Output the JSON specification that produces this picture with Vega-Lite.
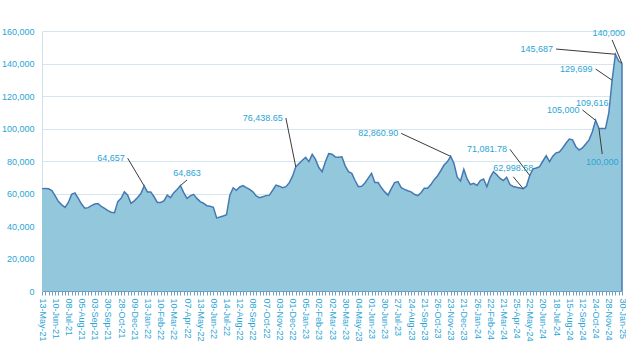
{
  "$schema": "https://vega.github.io/schema/vega-lite/v6.json",
  "width": 580,
  "height": 260,
  "autosize": {"type": "none"},
  "padding": {"left": 42, "top": 31, "right": 4, "bottom": 60},
  "background": "white",
  "config": {"view": {"stroke": null}, "font": "Liberation Sans"},
  "resolve": {"axis": {"x": "independent", "y": "independent"}, "scale": {"x": "shared", "y": "shared"}},
  "datasets": {
    "series": [
      {"d":"13-May-21","v":63000},{"d":"20-May-21","v":63100},{"d":"27-May-21","v":62900},{"d":"03-Jun-21","v":61800},
      {"d":"10-Jun-21","v":58500},{"d":"17-Jun-21","v":55000},{"d":"24-Jun-21","v":53000},{"d":"01-Jul-21","v":51500},
      {"d":"08-Jul-21","v":54500},{"d":"15-Jul-21","v":59500},{"d":"22-Jul-21","v":60300},{"d":"29-Jul-21","v":57000},
      {"d":"05-Aug-21","v":53500},{"d":"12-Aug-21","v":51000},{"d":"19-Aug-21","v":51300},{"d":"26-Aug-21","v":52500},
      {"d":"03-Sep-21","v":53500},{"d":"09-Sep-21","v":53800},{"d":"16-Sep-21","v":52000},{"d":"23-Sep-21","v":50900},
      {"d":"30-Sep-21","v":49500},{"d":"07-Oct-21","v":48500},{"d":"14-Oct-21","v":48200},{"d":"21-Oct-21","v":55000},
      {"d":"28-Oct-21","v":57000},{"d":"11-Nov-21","v":61000},{"d":"25-Nov-21","v":59000},{"d":"02-Dec-21","v":54000},
      {"d":"09-Dec-21","v":55500},{"d":"16-Dec-21","v":57500},{"d":"23-Dec-21","v":60000},{"d":"06-Jan-22","v":64657},
      {"d":"13-Jan-22","v":61000},{"d":"20-Jan-22","v":61000},{"d":"27-Jan-22","v":58000},{"d":"03-Feb-22","v":54500},
      {"d":"10-Feb-22","v":54500},{"d":"17-Feb-22","v":55500},{"d":"24-Feb-22","v":59000},{"d":"03-Mar-22","v":57500},
      {"d":"10-Mar-22","v":60500},{"d":"17-Mar-22","v":62500},{"d":"24-Mar-22","v":64863},{"d":"31-Mar-22","v":60500},
      {"d":"07-Apr-22","v":57000},{"d":"21-Apr-22","v":58500},{"d":"28-Apr-22","v":59500},{"d":"05-May-22","v":57000},
      {"d":"13-May-22","v":55000},{"d":"19-May-22","v":54000},{"d":"26-May-22","v":52500},{"d":"02-Jun-22","v":52200},
      {"d":"09-Jun-22","v":51500},{"d":"16-Jun-22","v":45000},{"d":"23-Jun-22","v":45500},{"d":"30-Jun-22","v":46200},
      {"d":"14-Jul-22","v":47000},{"d":"21-Jul-22","v":59000},{"d":"28-Jul-22","v":63500},{"d":"04-Aug-22","v":62000},
      {"d":"12-Aug-22","v":64000},{"d":"18-Aug-22","v":64800},{"d":"25-Aug-22","v":63600},{"d":"01-Sep-22","v":62500},
      {"d":"08-Sep-22","v":61000},{"d":"15-Sep-22","v":58500},{"d":"22-Sep-22","v":57400},{"d":"29-Sep-22","v":58000},
      {"d":"07-Oct-22","v":58700},{"d":"13-Oct-22","v":59000},{"d":"20-Oct-22","v":62000},{"d":"27-Oct-22","v":65200},
      {"d":"03-Nov-22","v":64500},{"d":"10-Nov-22","v":63600},{"d":"17-Nov-22","v":64200},{"d":"24-Nov-22","v":66500},
      {"d":"01-Dec-22","v":70500},{"d":"08-Dec-22","v":76438.65},{"d":"15-Dec-22","v":78500},{"d":"22-Dec-22","v":80500},
      {"d":"05-Jan-23","v":82200},{"d":"12-Jan-23","v":79600},{"d":"19-Jan-23","v":84100},{"d":"26-Jan-23","v":81000},
      {"d":"02-Feb-23","v":76000},{"d":"09-Feb-23","v":73400},{"d":"16-Feb-23","v":79500},{"d":"23-Feb-23","v":84500},
      {"d":"02-Mar-23","v":84200},{"d":"09-Mar-23","v":82500},{"d":"16-Mar-23","v":82300},{"d":"23-Mar-23","v":82600},
      {"d":"30-Mar-23","v":77000},{"d":"06-Apr-23","v":73400},{"d":"20-Apr-23","v":72400},{"d":"27-Apr-23","v":68000},
      {"d":"04-May-23","v":64200},{"d":"11-May-23","v":64400},{"d":"18-May-23","v":66500},{"d":"25-May-23","v":69500},
      {"d":"01-Jun-23","v":72400},{"d":"08-Jun-23","v":66700},{"d":"15-Jun-23","v":66700},{"d":"22-Jun-23","v":63500},
      {"d":"30-Jun-23","v":61000},{"d":"06-Jul-23","v":59000},{"d":"13-Jul-23","v":63000},{"d":"20-Jul-23","v":66700},
      {"d":"27-Jul-23","v":67300},{"d":"03-Aug-23","v":63600},{"d":"10-Aug-23","v":62500},{"d":"17-Aug-23","v":61700},
      {"d":"24-Aug-23","v":61000},{"d":"31-Aug-23","v":59500},{"d":"07-Sep-23","v":58700},{"d":"14-Sep-23","v":60500},
      {"d":"21-Sep-23","v":63200},{"d":"28-Sep-23","v":63200},{"d":"05-Oct-23","v":65500},{"d":"12-Oct-23","v":68500},
      {"d":"26-Oct-23","v":70800},{"d":"02-Nov-23","v":74000},{"d":"09-Nov-23","v":77500},{"d":"16-Nov-23","v":79500},
      {"d":"23-Nov-23","v":82860.90},{"d":"30-Nov-23","v":78600},{"d":"07-Dec-23","v":70000},{"d":"14-Dec-23","v":67700},
      {"d":"21-Dec-23","v":74900},{"d":"04-Jan-24","v":69000},{"d":"11-Jan-24","v":65500},{"d":"18-Jan-24","v":66300},
      {"d":"26-Jan-24","v":65000},{"d":"01-Feb-24","v":68000},{"d":"08-Feb-24","v":68900},{"d":"15-Feb-24","v":64200},
      {"d":"22-Feb-24","v":70000},{"d":"29-Feb-24","v":73400},{"d":"07-Mar-24","v":71500},{"d":"14-Mar-24","v":69300},
      {"d":"21-Mar-24","v":68000},{"d":"28-Mar-24","v":70000},{"d":"04-Apr-24","v":65500},{"d":"18-Apr-24","v":64300},
      {"d":"25-Apr-24","v":63800},{"d":"02-May-24","v":63400},{"d":"09-May-24","v":62998.58},{"d":"16-May-24","v":64500},
      {"d":"22-May-24","v":71081.78},{"d":"30-May-24","v":75200},{"d":"06-Jun-24","v":75700},{"d":"13-Jun-24","v":76500},
      {"d":"20-Jun-24","v":80000},{"d":"27-Jun-24","v":83300},{"d":"04-Jul-24","v":79600},{"d":"11-Jul-24","v":83000},
      {"d":"18-Jul-24","v":85000},{"d":"25-Jul-24","v":85500},{"d":"01-Aug-24","v":88000},{"d":"08-Aug-24","v":90900},
      {"d":"15-Aug-24","v":93500},{"d":"22-Aug-24","v":93000},{"d":"29-Aug-24","v":88800},{"d":"05-Sep-24","v":86800},
      {"d":"12-Sep-24","v":88000},{"d":"19-Sep-24","v":90500},{"d":"03-Oct-24","v":93000},{"d":"17-Oct-24","v":98000},
      {"d":"24-Oct-24","v":105000},{"d":"31-Oct-24","v":100000},{"d":"07-Nov-24","v":100000},{"d":"21-Nov-24","v":100000},
      {"d":"28-Nov-24","v":109616},{"d":"12-Dec-24","v":129699},{"d":"26-Dec-24","v":145687},{"d":"09-Jan-25","v":141500},
      {"d":"30-Jan-25","v":140000}
    ],
    "calloutsRight": [
      {"label":"64,657","td":"25-Nov-21","tv":81700,"pd":"06-Jan-22","pv":64657},
      {"label":"76,438.65","td":"17-Nov-22","tv":106500,"pd":"08-Dec-22","pv":76438.65},
      {"label":"82,860.90","td":"03-Aug-23","tv":97000,"pd":"23-Nov-23","pv":82860.90},
      {"label":"71,081.78","td":"04-Apr-24","tv":87200,"pd":"22-May-24","pv":71081.78},
      {"label":"105,000","td":"12-Sep-24","tv":111400,"pd":"24-Oct-24","pv":105000},
      {"label":"129,699","td":"24-Oct-24","tv":136600,"pd":"12-Dec-24","pv":129699},
      {"label":"145,687","td":"18-Jul-24","tv":148900,"pd":"26-Dec-24","pv":145687}
    ],
    "calloutsCenter": [
      {"label":"64,863","td":"07-Apr-22","tv":72400,"ld":"07-Apr-22","lv":68300,"pd":"24-Mar-22","pv":64863},
      {"label":"62,998.58","td":"18-Apr-24","tv":75500,"ld":"18-Apr-24","lv":70300,"pd":"09-May-24","pv":62998.58},
      {"label":"100,000","td":"07-Nov-24","tv":79600,"ld":"07-Nov-24","lv":84300,"pd":"31-Oct-24","pv":100000},
      {"label":"140,000","td":"28-Nov-24","tv":158600,"ld":"12-Dec-24","lv":154500,"pd":"30-Jan-25","pv":140000}
    ],
    "calloutsPlain": [
      {"label":"109,616","td":"17-Oct-24","tv":115500}
    ]
  },
  "layer": [
    {
      "data": {"name": "series"},
      "mark": {"type": "area", "color": "#93c8dc", "opacity": 1, "line": {"color": "#4679b2", "strokeWidth": 1.5}},
      "encoding": {
        "x": {
          "field": "d", "type": "ordinal", "sort": null,
          "scale": {"type": "point", "padding": 0},
          "axis": {
            "title": null,
            "labelAngle": 90,
            "labelFont": "Liberation Sans",
            "labelFontSize": 9,
            "labelColor": "#2aa5d5",
            "labelOverlap": false,
            "labelPadding": 3,
            "tickColor": "#6d9fc2",
            "tickSize": 4,
            "domainColor": "#6d9fc2",
            "grid": false,
            "labelExpr": "indexof(['13-May-21','10-Jun-21','08-Jul-21','05-Aug-21','03-Sep-21','30-Sep-21','28-Oct-21','09-Dec-21','13-Jan-22','10-Feb-22','10-Mar-22','07-Apr-22','13-May-22','09-Jun-22','14-Jul-22','12-Aug-22','08-Sep-22','07-Oct-22','03-Nov-22','01-Dec-22','05-Jan-23','02-Feb-23','02-Mar-23','30-Mar-23','04-May-23','01-Jun-23','30-Jun-23','27-Jul-23','24-Aug-23','21-Sep-23','26-Oct-23','23-Nov-23','21-Dec-23','26-Jan-24','22-Feb-24','21-Mar-24','25-Apr-24','22-May-24','20-Jun-24','18-Jul-24','15-Aug-24','12-Sep-24','24-Oct-24','28-Nov-24','30-Jan-25'], datum.value) >= 0 ? datum.value : ''"
          }
        },
        "y": {
          "field": "v", "type": "quantitative",
          "scale": {"domain": [0, 160000], "nice": false},
          "axis": {
            "title": null,
            "values": [0, 20000, 40000, 60000, 80000, 100000, 120000, 140000, 160000],
            "format": ",.0f",
            "labelFont": "Liberation Sans",
            "labelFontSize": 9,
            "labelColor": "#2aa5d5",
            "ticks": false,
            "labelPadding": 8,
            "domainColor": "#cfe2eb",
            "gridColor": "#d5e6ee",
            "gridWidth": 1
          }
        }
      }
    },
    {
      "data": {"name": "series"},
      "transform": [{"filter": "datum.d == '30-Jan-25'"}],
      "mark": {"type": "rule", "color": "#4679b2", "strokeWidth": 1.5},
      "encoding": {
        "x": {"field": "d", "type": "ordinal", "sort": null, "axis": null},
        "y": {"field": "v", "type": "quantitative", "axis": null},
        "y2": {"datum": 0}
      }
    },
    {
      "data": {"name": "calloutsRight"},
      "mark": {"type": "rule", "color": "#3a3a3a", "strokeWidth": 1},
      "encoding": {
        "x": {"field": "td", "type": "ordinal", "sort": null, "axis": null},
        "y": {"field": "tv", "type": "quantitative", "axis": null},
        "x2": {"field": "pd"},
        "y2": {"field": "pv"}
      }
    },
    {
      "data": {"name": "calloutsRight"},
      "mark": {"type": "text", "align": "right", "baseline": "middle", "dx": -3, "font": "Liberation Sans", "fontSize": 9, "color": "#2aa5d5"},
      "encoding": {
        "x": {"field": "td", "type": "ordinal", "sort": null, "axis": null},
        "y": {"field": "tv", "type": "quantitative", "axis": null},
        "text": {"field": "label"}
      }
    },
    {
      "data": {"name": "calloutsCenter"},
      "mark": {"type": "rule", "color": "#3a3a3a", "strokeWidth": 1},
      "encoding": {
        "x": {"field": "ld", "type": "ordinal", "sort": null, "axis": null},
        "y": {"field": "lv", "type": "quantitative", "axis": null},
        "x2": {"field": "pd"},
        "y2": {"field": "pv"}
      }
    },
    {
      "data": {"name": "calloutsCenter"},
      "mark": {"type": "text", "align": "center", "baseline": "middle", "font": "Liberation Sans", "fontSize": 9, "color": "#2aa5d5"},
      "encoding": {
        "x": {"field": "td", "type": "ordinal", "sort": null, "axis": null},
        "y": {"field": "tv", "type": "quantitative", "axis": null},
        "text": {"field": "label"}
      }
    },
    {
      "data": {"name": "calloutsPlain"},
      "mark": {"type": "text", "align": "center", "baseline": "middle", "font": "Liberation Sans", "fontSize": 9, "color": "#2aa5d5"},
      "encoding": {
        "x": {"field": "td", "type": "ordinal", "sort": null, "axis": null},
        "y": {"field": "tv", "type": "quantitative", "axis": null},
        "text": {"field": "label"}
      }
    }
  ]
}
